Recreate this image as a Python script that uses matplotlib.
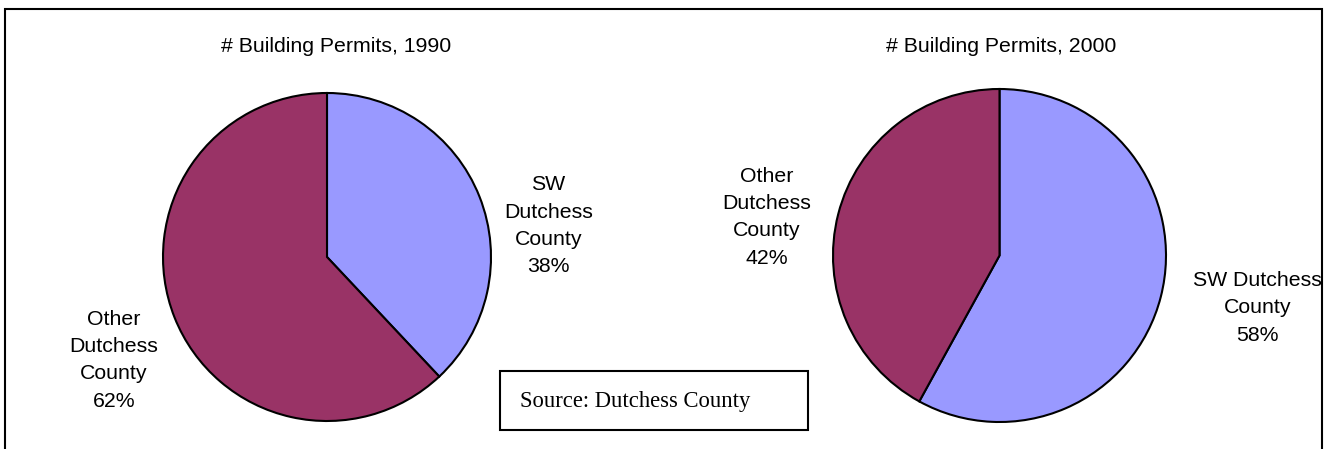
"""Building permits pie charts, SW Dutchess vs. rest of Dutchess County."""

import matplotlib.pyplot as plt
from matplotlib.patches import Rectangle

years = ["1990", "2000"]
regions = ["SW Dutchess County", "Other Dutchess County"]
shares_1990 = [38, 62]
shares_2000 = [58, 42]
colors = ["#9999FF", "#993366"]

W, H = 1329, 449
fig = plt.figure(figsize=(W / 100, H / 100), dpi=100)
plt.rcParams["font.family"] = ["Liberation Sans", "DejaVu Sans"]
FS = 15.3
LS = 1.55

# outer frame (bottom edge falls outside the image)
fig.patches.append(Rectangle((5 / W, -0.1), 1317 / W, (H - 9) / H + 0.1,
                             transform=fig.transFigure, fill=False,
                             edgecolor="black", linewidth=1.5))


def pie_axes(cx, cy, r, shares):
    # axes exactly covering the pie, given pixel centre/radius
    ax = fig.add_axes([(cx - r) / W, (H - cy - r) / H, 2 * r / W, 2 * r / H])
    ax.pie(shares, colors=colors, startangle=90, counterclock=False, radius=1,
           wedgeprops=dict(edgecolor="black", linewidth=1.5, clip_on=False))
    ax.set_xlim(-1, 1)
    ax.set_ylim(-1, 1)
    ax.axis("off")
    return ax


ax1 = pie_axes(327, 257, 164, shares_1990)
ax1.text(1.35, 0.19, f"SW\nDutchess\nCounty\n{shares_1990[0]}%", ha="center",
         va="center", fontsize=FS, linespacing=LS, clip_on=False)
ax1.text(-1.30, -0.63, f"Other\nDutchess\nCounty\n{shares_1990[1]}%", ha="center",
         va="center", fontsize=FS, linespacing=LS, clip_on=False)

ax2 = pie_axes(999.5, 255.5, 166.5, shares_2000)
ax2.text(1.55, -0.315, f"SW Dutchess\nCounty\n{shares_2000[0]}%", ha="center",
         va="center", fontsize=FS, linespacing=LS, clip_on=False)
ax2.text(-1.40, 0.23, f"Other\nDutchess\nCounty\n{shares_2000[1]}%", ha="center",
         va="center", fontsize=FS, linespacing=LS, clip_on=False)

fig.text(336 / W, 1 - 46 / H, f"# Building Permits, {years[0]}", ha="center",
         va="center", fontsize=FS)
fig.text(1001 / W, 1 - 46 / H, f"# Building Permits, {years[1]}", ha="center",
         va="center", fontsize=FS)

# source note box
fig.patches.append(Rectangle((500 / W, 1 - 430 / H), 308 / W, 59 / H,
                             transform=fig.transFigure, facecolor="white",
                             edgecolor="black", linewidth=1.5))
fig.text(520 / W, 1 - 401 / H, "Source: Dutchess County", ha="left", va="center",
         fontsize=16.3, family="Liberation Serif")

fig.savefig("out.png", dpi=100)
